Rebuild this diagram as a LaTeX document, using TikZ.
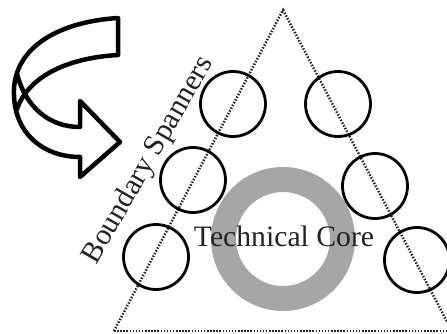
\documentclass[tikz,border=0pt]{standalone}
\usepackage{fontspec}
\setmainfont{Liberation Serif}
\definecolor{ringgray}{RGB}{166,166,166}
\definecolor{txt}{RGB}{35,35,35}
\begin{document}
\begin{tikzpicture}[x=1pt,y=-1pt,
  spanner/.style={circle,draw=black,line width=2.8pt,minimum size=65pt,inner sep=0pt},
  dotline/.style={line width=2.5pt,dash pattern=on 1.5pt off 1.6pt,black!85},
  ribbon/.style={draw=black,line width=4.5pt,line join=round,line cap=round},
  label/.style={font=\fontsize{29.7}{32}\selectfont,text=txt,inner sep=0pt}]
\useasboundingbox (0,0) rectangle (447,333);
\clip (0,0) rectangle (447,333);
% gray core ring
\node[circle,draw=ringgray,line width=25pt,minimum size=119pt,inner sep=0pt] (core) at (283,239) {};
% triangle
\coordinate (apex) at (283,10);
\coordinate (bl) at (114,331);
\coordinate (br) at (452,331);
\draw[dotline] (bl) -- (apex) -- (br);
\draw[dotline] (bl) -- (br);
% boundary spanner circles
\node[spanner] (c1) at (233,104) {};
\node[spanner] (c2) at (338,104) {};
\node[spanner] (c3) at (193,180) {};
\node[spanner] (c4) at (375,186) {};
\node[spanner] (c5) at (156,257) {};
\node[spanner] (c6) at (417,260) {};
% texts
\node[label,anchor=base] (tc) at (284,246) {Technical Core};
\node[label,anchor=base,rotate=60] (bs) at (155,164) {Boundary Spanners};
% curved ribbon arrow
\coordinate (tipA) at (120,142);
\draw[ribbon] (80,157) -- (80,177) -- (tipA) -- (80,101) -- (80,127)
  .. controls (50,127) and (26,108) .. (17,74);
\draw[ribbon] (80,157) .. controls (45,157) and (15,135) .. (14,95)
  .. controls (12,50) and (55,22) .. (118,18) -- (118,55)
  .. controls (65,58) and (26,78) .. (16,112);
\end{tikzpicture}
\end{document}
